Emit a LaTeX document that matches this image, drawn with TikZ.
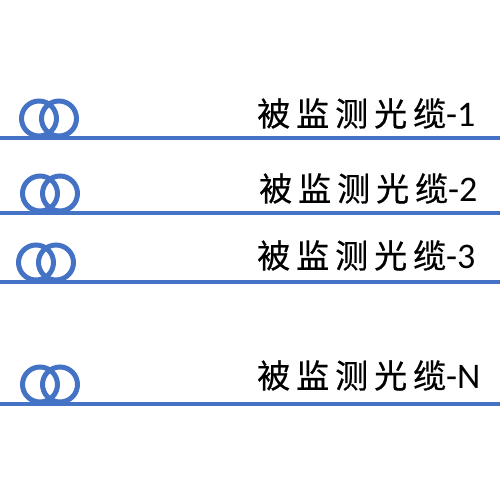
\documentclass[tikz,border=0pt]{standalone}
\usepackage{fontspec}
\newfontfamily\cjk[FakeBold=0.6]{Noto Sans CJK SC}
\newfontfamily\lat{Carlito}
\definecolor{cableblue}{RGB}{68,114,196}
\newcommand{\cablelabel}[1]{{\cjk 被\hspace{6pt}监\hspace{6pt}测\hspace{6pt}光\hspace{6pt}缆}{\lat\fontsize{36}{40}\selectfont -#1}}
\begin{document}
\begin{tikzpicture}[x=1pt,y=-1pt,
  cable/.style={draw=cableblue,line width=3.2pt},
  coil/.style={draw=cableblue,line width=5pt},
  lbl/.style={anchor=base west,inner sep=0pt,font=\fontsize{33}{38}\selectfont}]
\useasboundingbox (0,0) rectangle (500,500);
\foreach \name/\ly/\cx/\by/\tx in {1/138/39/126/257, 2/213/40/201/259, 3/282/36/268/257, N/404/40/388/257}{
  \coordinate (l\name) at (0,\ly);
  \coordinate (r\name) at (500,\ly);
  \draw[cable] (l\name) -- (r\name);
  \draw[coil] (\cx,\ly-19.5) circle[radius=17.5];
  \draw[coil] (\cx+20,\ly-19.5) circle[radius=17.5];
  \node[lbl] (t\name) at (\tx,\by) {\cablelabel{\name}};
}
\end{tikzpicture}
\end{document}
